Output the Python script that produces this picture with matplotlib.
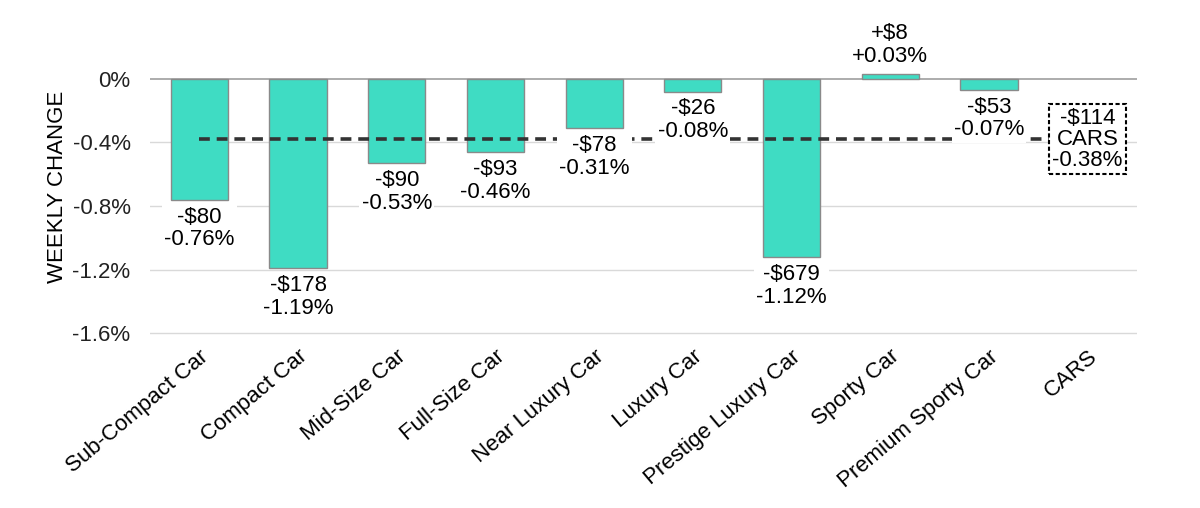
import numpy as np
import matplotlib
matplotlib.use("Agg")
import matplotlib.pyplot as plt

plt.rcParams['font.family'] = ['Liberation Sans', 'DejaVu Sans']

# data
categories = ['Sub-Compact Car', 'Compact Car', 'Mid-Size Car', 'Full-Size Car',
              'Near Luxury Car', 'Luxury Car', 'Prestige Luxury Car', 'Sporty Car',
              'Premium Sporty Car', 'CARS']
pct_change = [-0.76, -1.19, -0.53, -0.46, -0.31, -0.08, -1.12, 0.03, -0.07]
dollar_change = [-80, -178, -90, -93, -78, -26, -679, 8, -53]
cars_pct = -0.38
cars_dollar = -114
yticks = [0, -0.4, -0.8, -1.2, -1.6]
ytick_labels = ['0%', '-0.4%', '-0.8%', '-1.2%', '-1.6%']

FS = 16

fig = plt.figure(figsize=(12, 5.08), dpi=100)
ax = fig.add_axes([0.125, 0.3406, 0.8225, 0.5826])

x = np.arange(len(pct_change))
ax.bar(x, pct_change, width=0.58, color='#3fdcc3', edgecolor='#8a8a8a', linewidth=1.0, zorder=2)

# gridlines
for t in yticks:
    ax.axhline(t, color='#a6a6a6' if t == 0 else '#d9d9d9', linewidth=1.3 if t == 0 else 1.0, zorder=1)

# average dashed line
ax.plot([0, len(categories) - 1], [cars_pct, cars_pct], color='#333333', linewidth=2.6,
        linestyle=(0, (3, 1.9)), zorder=3)

def fmt_d(v):
    return ('+$%d' % v) if v > 0 else ('-$%d' % abs(v))

def fmt_p(v):
    return ('+%.2f%%' % v) if v > 0 else ('%.2f%%' % v)

for xi, p, d in zip(x, pct_change, dollar_change):
    txt = fmt_d(d) + '\n' + fmt_p(p)
    if p >= 0:
        ax.annotate(txt, (xi, p), xytext=(0, 5), textcoords='offset points',
                    ha='center', va='bottom', fontsize=FS, linespacing=1.1,
                    bbox=dict(boxstyle='square,pad=0.1', fc='white', ec='none'), zorder=4)
    else:
        ax.annotate(txt, (xi, p), xytext=(0, -5), textcoords='offset points',
                    ha='center', va='top', fontsize=FS, linespacing=1.1,
                    bbox=dict(boxstyle='square,pad=0.1', fc='white', ec='none'), zorder=4)

ax.text(len(categories) - 1, cars_pct, fmt_d(cars_dollar) + '\nCARS\n' + fmt_p(cars_pct),
        ha='center', va='center', fontsize=FS, linespacing=1.0,
        bbox=dict(boxstyle='square,pad=0.15', fc='white', ec='black', ls=(0, (2, 1.2)), lw=1.5),
        zorder=5)

ax.set_xlim(-0.5, len(categories) - 0.5)
ax.set_ylim(-1.61, 0.25)
ax.set_yticks(yticks)
ax.set_yticklabels(ytick_labels, fontsize=FS, color='#222222')
ax.set_xticks(np.arange(len(categories)))
ax.set_xticklabels(categories, rotation=40, ha='right', rotation_mode='anchor', fontsize=FS)
ax.tick_params(length=0, pad=14, axis='y')
ax.tick_params(length=0, pad=8, axis='x')
for s in ax.spines.values():
    s.set_visible(False)
ax.set_ylabel('WEEKLY CHANGE', fontsize=FS, labelpad=3)

fig.savefig('out.png', dpi=100)
